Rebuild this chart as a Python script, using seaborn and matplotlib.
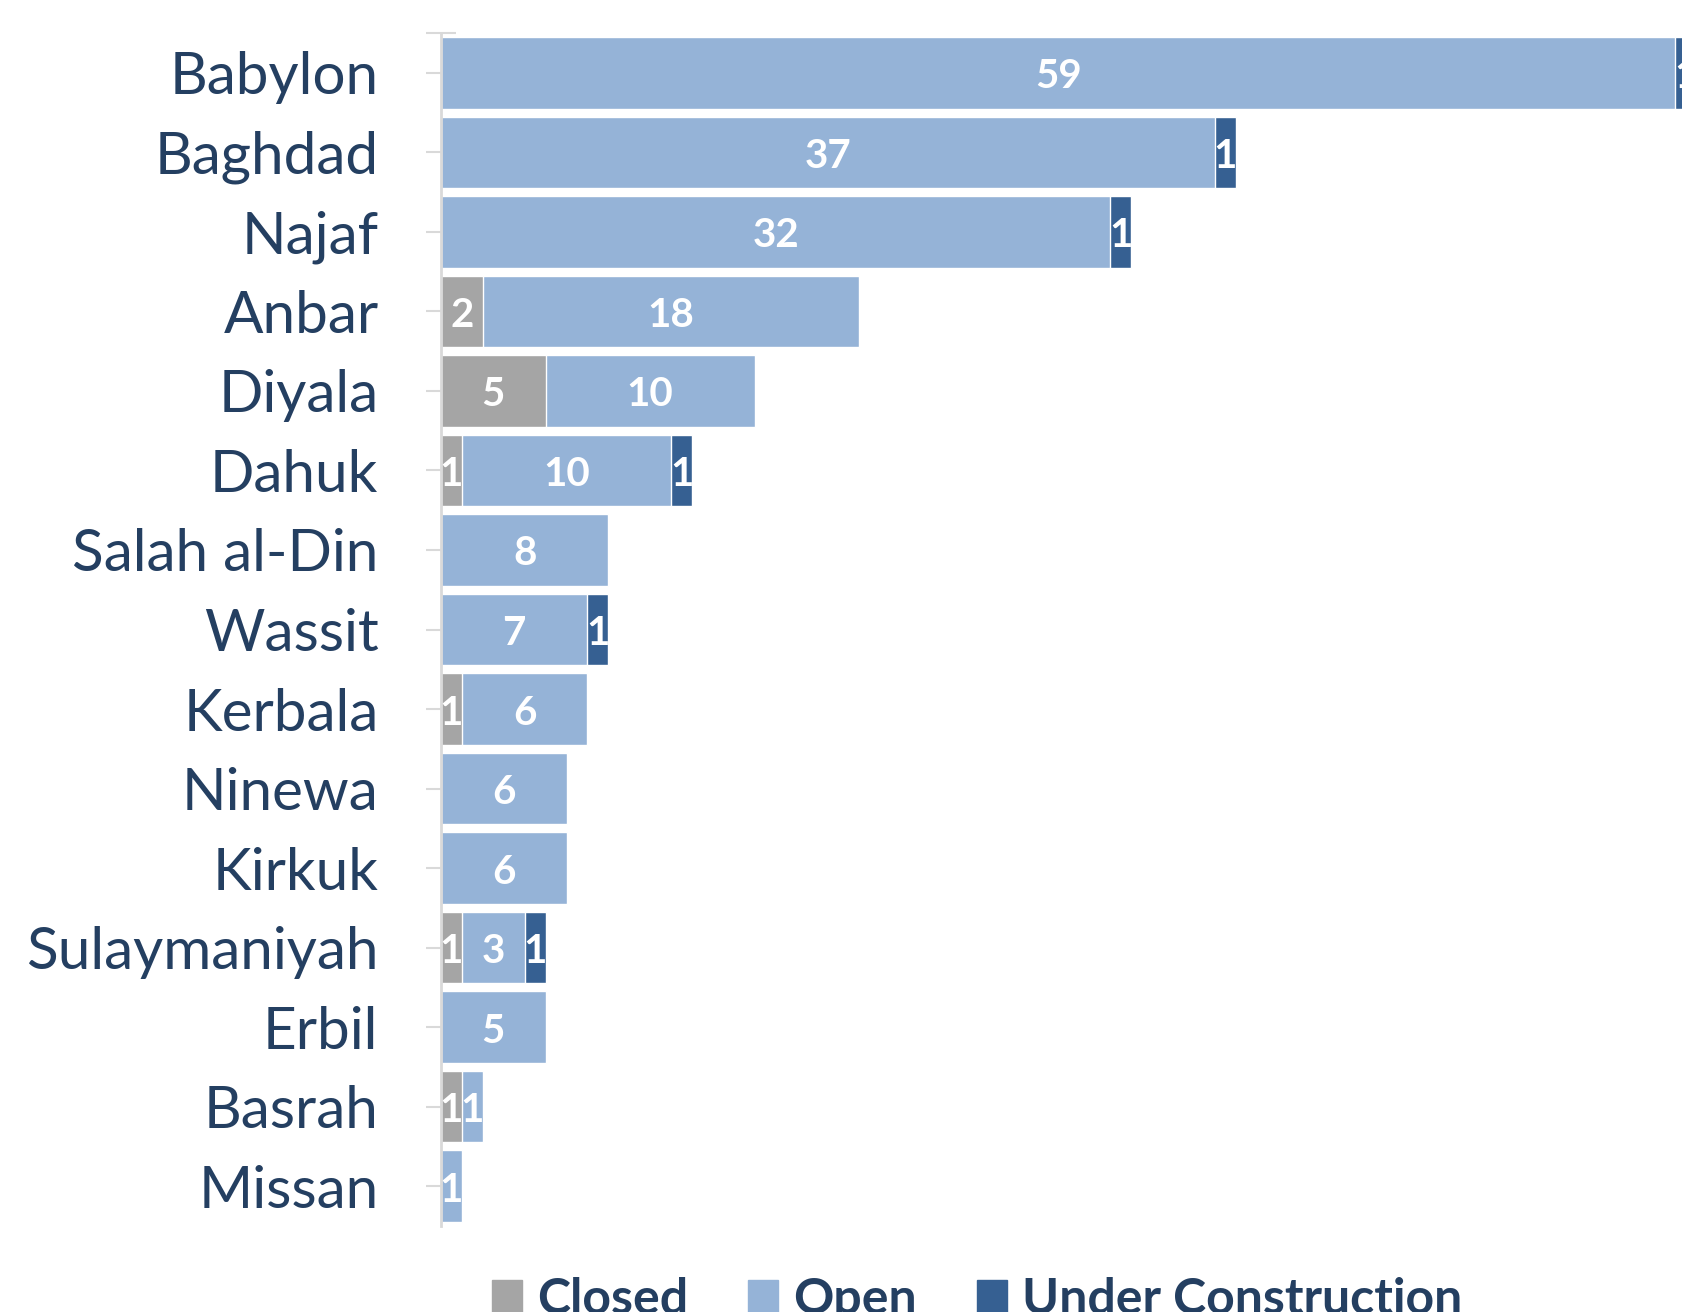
import matplotlib.pyplot as plt
import seaborn as sns
import numpy as np
from matplotlib.patches import Patch

# Facilities per province by status
provinces = ["Babylon", "Baghdad", "Najaf", "Anbar", "Diyala", "Dahuk", "Salah al-Din",
             "Wassit", "Kerbala", "Ninewa", "Kirkuk", "Sulaymaniyah", "Erbil", "Basrah", "Missan"]
closed = [0, 0, 0, 2, 5, 1, 0, 0, 1, 0, 0, 1, 0, 1, 0]
open_ = [59, 37, 32, 18, 10, 10, 8, 7, 6, 6, 6, 3, 5, 1, 1]
under_construction = [1, 1, 1, 0, 0, 1, 0, 1, 0, 0, 0, 1, 0, 0, 0]

c_closed = "#A5A5A5"
c_open = "#95B3D7"
c_uc = "#366092"
navy = "#243F61"

sns.set_theme(style="white")
plt.rcParams["font.family"] = ["Lato", "DejaVu Sans"]

fig = plt.figure(figsize=(16.82, 13.12), dpi=100)
ax = fig.add_axes([441 / 1682, 1 - 1226 / 1312, 1 - 441 / 1682, (1226 - 33) / 1312])

c = np.array(closed)
o = np.array(open_)
u = np.array(under_construction)

# stacked bars drawn as cumulative totals, largest first
sns.barplot(x=c + o + u, y=provinces, orient="h", color=c_uc, width=0.9,
            edgecolor="white", linewidth=1, errorbar=None, ax=ax, saturation=1)
sns.barplot(x=c + o, y=provinces, orient="h", color=c_open, width=0.9,
            edgecolor="white", linewidth=1, errorbar=None, ax=ax, saturation=1)
sns.barplot(x=c, y=provinces, orient="h", color=c_closed, width=0.9,
            edgecolor="white", linewidth=1, errorbar=None, ax=ax, saturation=1)

# segment labels
for i in range(len(provinces)):
    starts = [0, c[i], c[i] + o[i]]
    for s, v in zip(starts, [c[i], o[i], u[i]]):
        if v > 0:
            ax.text(s + v / 2, i + 0.05, str(v), ha="center", va="center", color="white",
                    fontsize=29, fontweight="bold", clip_on=False)

ax.set_xlim(0, (1682 - 441) / 20.92)
ax.set_ylim(len(provinces) - 0.5, -0.5)
ax.set_xlabel("")
ax.set_ylabel("")
ax.xaxis.set_visible(False)
for side in ["top", "right", "bottom"]:
    ax.spines[side].set_visible(False)
ax.spines["left"].set_color("#D9D9D9")
ax.spines["left"].set_linewidth(2)
ax.set_yticks([-0.5], minor=True)
ax.tick_params(axis="y", which="both", direction="inout", length=22, width=1.5,
               color="#D9D9D9", pad=34, labelsize=42, labelcolor=navy, left=True)
for lbl in ax.get_yticklabels():
    lbl.set_y(lbl.get_position()[1])

handles = [Patch(color=c_closed), Patch(color=c_open), Patch(color=c_uc)]
leg = fig.legend(handles, ["Closed", "Open", "Under Construction"], loc="upper center",
                 bbox_to_anchor=(0.581, 0.027), ncol=3, frameon=False, fontsize=36,
                 handlelength=0.6, handleheight=0.6, handletextpad=0.3,
                 columnspacing=1.2, borderaxespad=0, borderpad=0)
for t in leg.get_texts():
    t.set_color(navy)
    t.set_fontweight("bold")

fig.savefig("out.png", dpi=100)
